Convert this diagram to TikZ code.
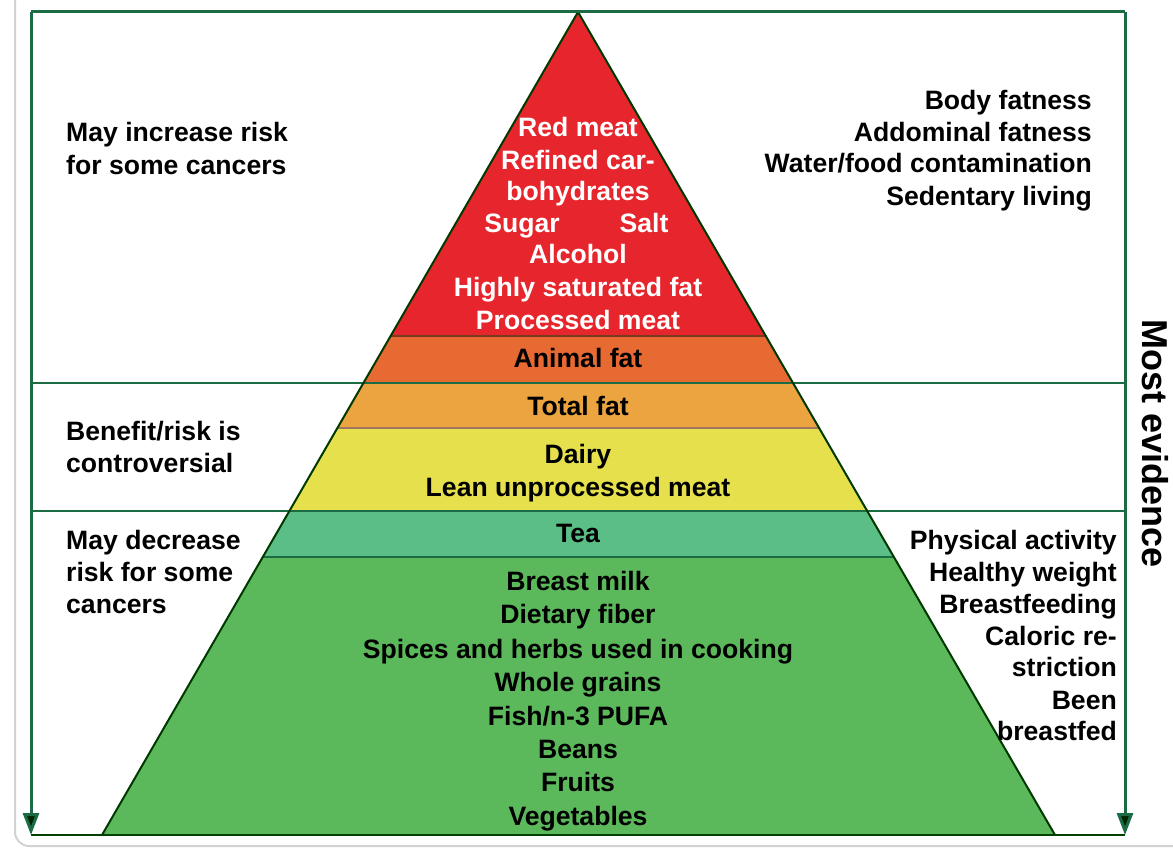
\documentclass[tikz,border=0pt]{standalone}
\usepackage{fontspec}
\setmainfont{Liberation Sans}
\usetikzlibrary{arrows.meta}
\definecolor{framegreen}{HTML}{1B6B45}
\definecolor{cred}{HTML}{E6262C}
\definecolor{corange}{HTML}{E86A33}
\definecolor{clorange}{HTML}{EBA43F}
\definecolor{cyellow}{HTML}{E5E04B}
\definecolor{cteal}{HTML}{5BBE86}
\definecolor{cgreen}{HTML}{5BB85B}
\definecolor{bandline}{HTML}{7A3A1E}
\tikzset{
  lbl/.style={font=\fontsize{26.6}{31}\selectfont\bfseries, inner sep=0pt, anchor=base},
  lleft/.style={lbl, anchor=base west},
  lright/.style={lbl, anchor=base east},
  wlbl/.style={lbl, text=white},
  frameline/.style={draw=framegreen, line width=3pt},
  divline/.style={draw=framegreen, line width=2.2pt},
  bline/.style={line width=1.8pt},
}
\begin{document}
\begin{tikzpicture}[x=1pt,y=-1pt]
\useasboundingbox (0,0) rectangle (1173,851);
\fill[white] (0,0) rectangle (1173,851);
% screenshot frame
\draw[gray!35, line width=2pt, rounded corners=14pt] (15,-20) -- (15,846) -- (1190,846);
% coordinates of pyramid
\coordinate (apex) at (578,12);
\coordinate (bl) at (102,835);
\coordinate (br) at (1055,835);
\def\lx#1{578-(#1-12)/823*476}
\def\rx#1{578+(#1-12)/823*476}
% bands
\fill[cred] (apex) -- ({\lx{336}},336) -- ({\rx{336}},336) -- cycle;
\fill[corange] ({\lx{336}},336) -- ({\rx{336}},336) -- ({\rx{383}},383) -- ({\lx{383}},383) -- cycle;
\fill[clorange] ({\lx{383}},383) -- ({\rx{383}},383) -- ({\rx{428}},428) -- ({\lx{428}},428) -- cycle;
\fill[cyellow] ({\lx{428}},428) -- ({\rx{428}},428) -- ({\rx{511}},511) -- ({\lx{511}},511) -- cycle;
\fill[cteal] ({\lx{511}},511) -- ({\rx{511}},511) -- ({\rx{557}},557) -- ({\lx{557}},557) -- cycle;
\fill[cgreen] ({\lx{557}},557) -- ({\rx{557}},557) -- (br) -- (bl) -- cycle;
% band boundary lines
\draw[bline, draw=bandline] ({\lx{336}},336) -- ({\rx{336}},336);
\draw[bline, draw=bandline!70] ({\lx{428}},428) -- ({\rx{428}},428);
\draw[bline, draw=framegreen] ({\lx{557}},557) -- ({\rx{557}},557);
% full-width dividers
\coordinate (d1l) at (31,383); \coordinate (d1r) at (1125,383);
\coordinate (d2l) at (31,511); \coordinate (d2r) at (1125,511);
\draw[divline] (d1l) -- (d1r);
\draw[divline] (d2l) -- (d2r);
% pyramid outline
\draw[line width=2pt, draw=black!55!green!50!black] (bl) -- (apex) -- (br);
% frame
\coordinate (tl) at (31,12); \coordinate (tr) at (1125,12);
\coordinate (ll) at (31,835); \coordinate (lr) at (1125,835);
\draw[frameline] (tl) -- (tr);
\draw[line width=2.2pt, draw=black!75!green] (ll) -- (lr);
\draw[frameline, -{Triangle[length=22pt,width=16pt,fill=black!85!green]}] (tl) -- (ll);
\draw[frameline, -{Triangle[length=22pt,width=16pt,fill=black!85!green]}] (tr) -- (lr);
% left labels
\foreach \t/\y [count=\i] in {May increase risk/132, for some cancers/165, {Benefit/risk is}/431, controversial/463, May decrease/540, risk for some/572, cancers/604}
  \node[lleft] (L\i) at (66,\y+9.5) {\t};
% right labels top
\foreach \t/\y [count=\i] in {Body fatness/100, Addominal fatness/132, {Water/food contamination}/163, Sedentary living/196}
  \node[lright] (RT\i) at (1092,\y+9.5) {\t};
% right labels bottom
\foreach \t/\y [count=\i] in {Physical activity/540, Healthy weight/572, Breastfeeding/604, Caloric re-/636, striction/667, Been/700, breastfed/731}
  \node[lright] (RB\i) at (1117,\y+9.5) {\t};
% red band text
\foreach \t/\y [count=\i] in {Red meat/127, Refined car-/160, bohydrates/191, Alcohol/254, Highly saturated fat/287, Processed meat/320}
  \node[wlbl] (P\i) at (578,\y+9.5) {\t};
\node[wlbl] (sugar) at (522,232.5) {Sugar};
\node[wlbl] (salt) at (644,232.5) {Salt};
% other bands
\node[lbl] (animal) at (578,367.5) {Animal fat};
\node[lbl] (total) at (578,415.5) {Total fat};
\node[lbl] (dairy) at (578,463.5) {Dairy};
\node[lbl] (lean) at (578,496.5) {Lean unprocessed meat};
\node[lbl] (tea) at (578,542.5) {Tea};
\foreach \t/\y [count=\i] in {Breast milk/581, Dietary fiber/614, Spices and herbs used in cooking/649, Whole grains/682, {Fish/n-3 PUFA}/716, Beans/749, Fruits/782, Vegetables/816}
  \node[lbl] (G\i) at (578,\y+9.5) {\t};
% side label
\node[font=\fontsize{36}{40}\selectfont\bfseries, rotate=-90, inner sep=0pt] (most) at (1155,444) {Most evidence};
\end{tikzpicture}
\end{document}
